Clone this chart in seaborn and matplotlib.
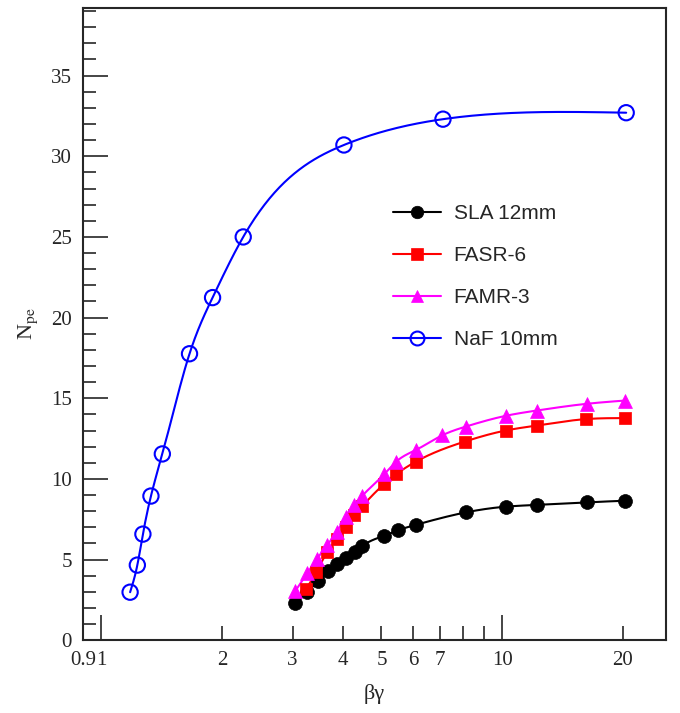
import numpy as np
import pandas as pd
import matplotlib
matplotlib.use("Agg")
import matplotlib.pyplot as plt
import seaborn as sns
from matplotlib.lines import Line2D
from matplotlib.ticker import FixedLocator, FixedFormatter, MultipleLocator

# values
sla_x = [3.05, 3.26, 3.47, 3.68, 3.87, 4.07, 4.29, 4.48, 5.08, 5.49, 6.10, 8.13, 10.2, 12.2, 16.3, 20.3]
sla_y = [2.28, 2.98, 3.65, 4.27, 4.70, 5.07, 5.45, 5.84, 6.48, 6.81, 7.16, 7.93, 8.28, 8.39, 8.55, 8.65]

fasr_x = [3.24, 3.44, 3.66, 3.87, 4.07, 4.28, 4.48, 5.08, 5.44, 6.09, 8.08, 10.2, 12.2, 16.2, 20.3]
fasr_y = [3.15, 4.24, 5.45, 6.25, 7.04, 7.76, 8.32, 9.69, 10.29, 11.07, 12.32, 13.0, 13.31, 13.71, 13.77]

famr_x = [3.05, 3.26, 3.45, 3.66, 3.87, 4.07, 4.28, 4.48, 5.08, 5.44, 6.10, 7.10, 8.13, 10.2, 12.2, 16.3, 20.3]
famr_y = [3.06, 4.14, 5.03, 5.90, 6.73, 7.66, 8.39, 8.96, 10.29, 11.07, 11.80, 12.71, 13.25, 13.91, 14.24, 14.66, 14.86]

naf_x = [1.18, 1.23, 1.27, 1.33, 1.42, 1.66, 1.895, 2.26, 4.03, 7.12, 20.4]
naf_y = [2.98, 4.66, 6.58, 8.94, 11.55, 17.76, 21.24, 25.0, 30.7, 32.3, 32.7]

labels = ["SLA 12mm", "FASR-6", "FAMR-3", "NaF 10mm"]
colors = ["black", "red", "#ff00ff", "blue"]

decade_ticks = [1, 10]
decade_text = ["1", "10"]
other_ticks = [0.9, 2, 3, 4, 5, 6, 7, 8, 9, 20]
other_text = ["0.9", "2", "3", "4", "5", "6", "7", "", "", "20"]


def smooth(x, y, n=300):
    # natural cubic spline in log10(x)
    u = np.log10(np.asarray(x, float))
    y = np.asarray(y, float)
    m = len(u)
    h = np.diff(u)
    A = np.zeros((m, m))
    b = np.zeros(m)
    A[0, 0] = A[-1, -1] = 1
    for i in range(1, m - 1):
        A[i, i - 1] = h[i - 1]
        A[i, i] = 2 * (h[i - 1] + h[i])
        A[i, i + 1] = h[i]
        b[i] = 6 * ((y[i + 1] - y[i]) / h[i] - (y[i] - y[i - 1]) / h[i - 1])
    M = np.linalg.solve(A, b)
    uu = np.linspace(u[0], u[-1], n)
    k = np.clip(np.searchsorted(u, uu) - 1, 0, m - 2)
    t0 = u[k + 1] - uu
    t1 = uu - u[k]
    hk = h[k]
    yy = (M[k] * t0**3 / (6 * hk) + M[k + 1] * t1**3 / (6 * hk)
          + (y[k] / hk - M[k] * hk / 6) * t0 + (y[k + 1] / hk - M[k + 1] * hk / 6) * t1)
    return pd.DataFrame({"x": 10**uu, "y": yy})


sns.set_style("ticks")
plt.rcParams["font.family"] = ["Liberation Serif", "DejaVu Serif"]
plt.rcParams["mathtext.fontset"] = "stix"

fig = plt.figure(figsize=(6.8, 7.13), dpi=100)
ax = fig.add_axes([0.122, 0.102, 0.857, 0.887])
ax.set_xscale("log")

series = [(sla_x, sla_y, "o", 10, "full"),
          (fasr_x, fasr_y, "s", 9, "full"),
          (famr_x, famr_y, "^", 10, "full"),
          (naf_x, naf_y, "o", 11, "none")]

for (xs, ys, mk, ms, fill), col in zip(series, colors):
    curve = smooth(xs, ys)
    sns.lineplot(data=curve, x="x", y="y", color=col, lw=1.5, ax=ax, legend=False, sort=False)
    pts = pd.DataFrame({"x": xs, "y": ys})
    if fill == "none":
        sns.scatterplot(data=pts, x="x", y="y", marker=mk, s=ms**2, facecolors="none",
                        edgecolor=col, linewidth=1.5, ax=ax, legend=False, zorder=3)
    else:
        sns.scatterplot(data=pts, x="x", y="y", marker=mk, s=ms**2, color=col,
                        edgecolor=col, linewidth=0.5, ax=ax, legend=False, zorder=3)

ax.set_xlim(0.9, 25.6)
ax.set_ylim(0, 39.2)

ax.xaxis.set_major_locator(FixedLocator(decade_ticks))
ax.xaxis.set_major_formatter(FixedFormatter(decade_text))
ax.xaxis.set_minor_locator(FixedLocator(other_ticks))
ax.xaxis.set_minor_formatter(FixedFormatter(other_text))
ax.yaxis.set_major_locator(MultipleLocator(5))
ax.yaxis.set_minor_locator(MultipleLocator(1))

ax.tick_params(axis="both", which="both", direction="in", width=1.2,
               labelsize=15, top=False, right=False, pad=8)
ax.tick_params(axis="both", which="major", length=18)
ax.tick_params(axis="x", which="minor", length=10)
ax.tick_params(axis="y", which="minor", length=9)

for sp in ax.spines.values():
    sp.set_linewidth(1.5)

ax.set_xlabel("βγ", fontsize=16, labelpad=10)
ax.set_ylabel(r"N$_{\mathrm{pe}}$", fontsize=16, labelpad=8)

handles = []
for (xs, ys, mk, ms, fill), col in zip(series, colors):
    handles.append(Line2D([], [], color=col, lw=1.5, marker=mk, markersize=ms - 1,
                          markerfacecolor=("none" if fill == "none" else col),
                          markeredgecolor=col, markeredgewidth=1.5 if fill == "none" else 0.5))
ax.legend(handles, labels, loc="upper left", bbox_to_anchor=(0.5, 0.719), frameon=False,
          prop={"family": "Liberation Sans", "size": 15}, handlelength=2.3,
          labelspacing=1.1, handletextpad=0.6)

fig.savefig("out.png", dpi=100)
